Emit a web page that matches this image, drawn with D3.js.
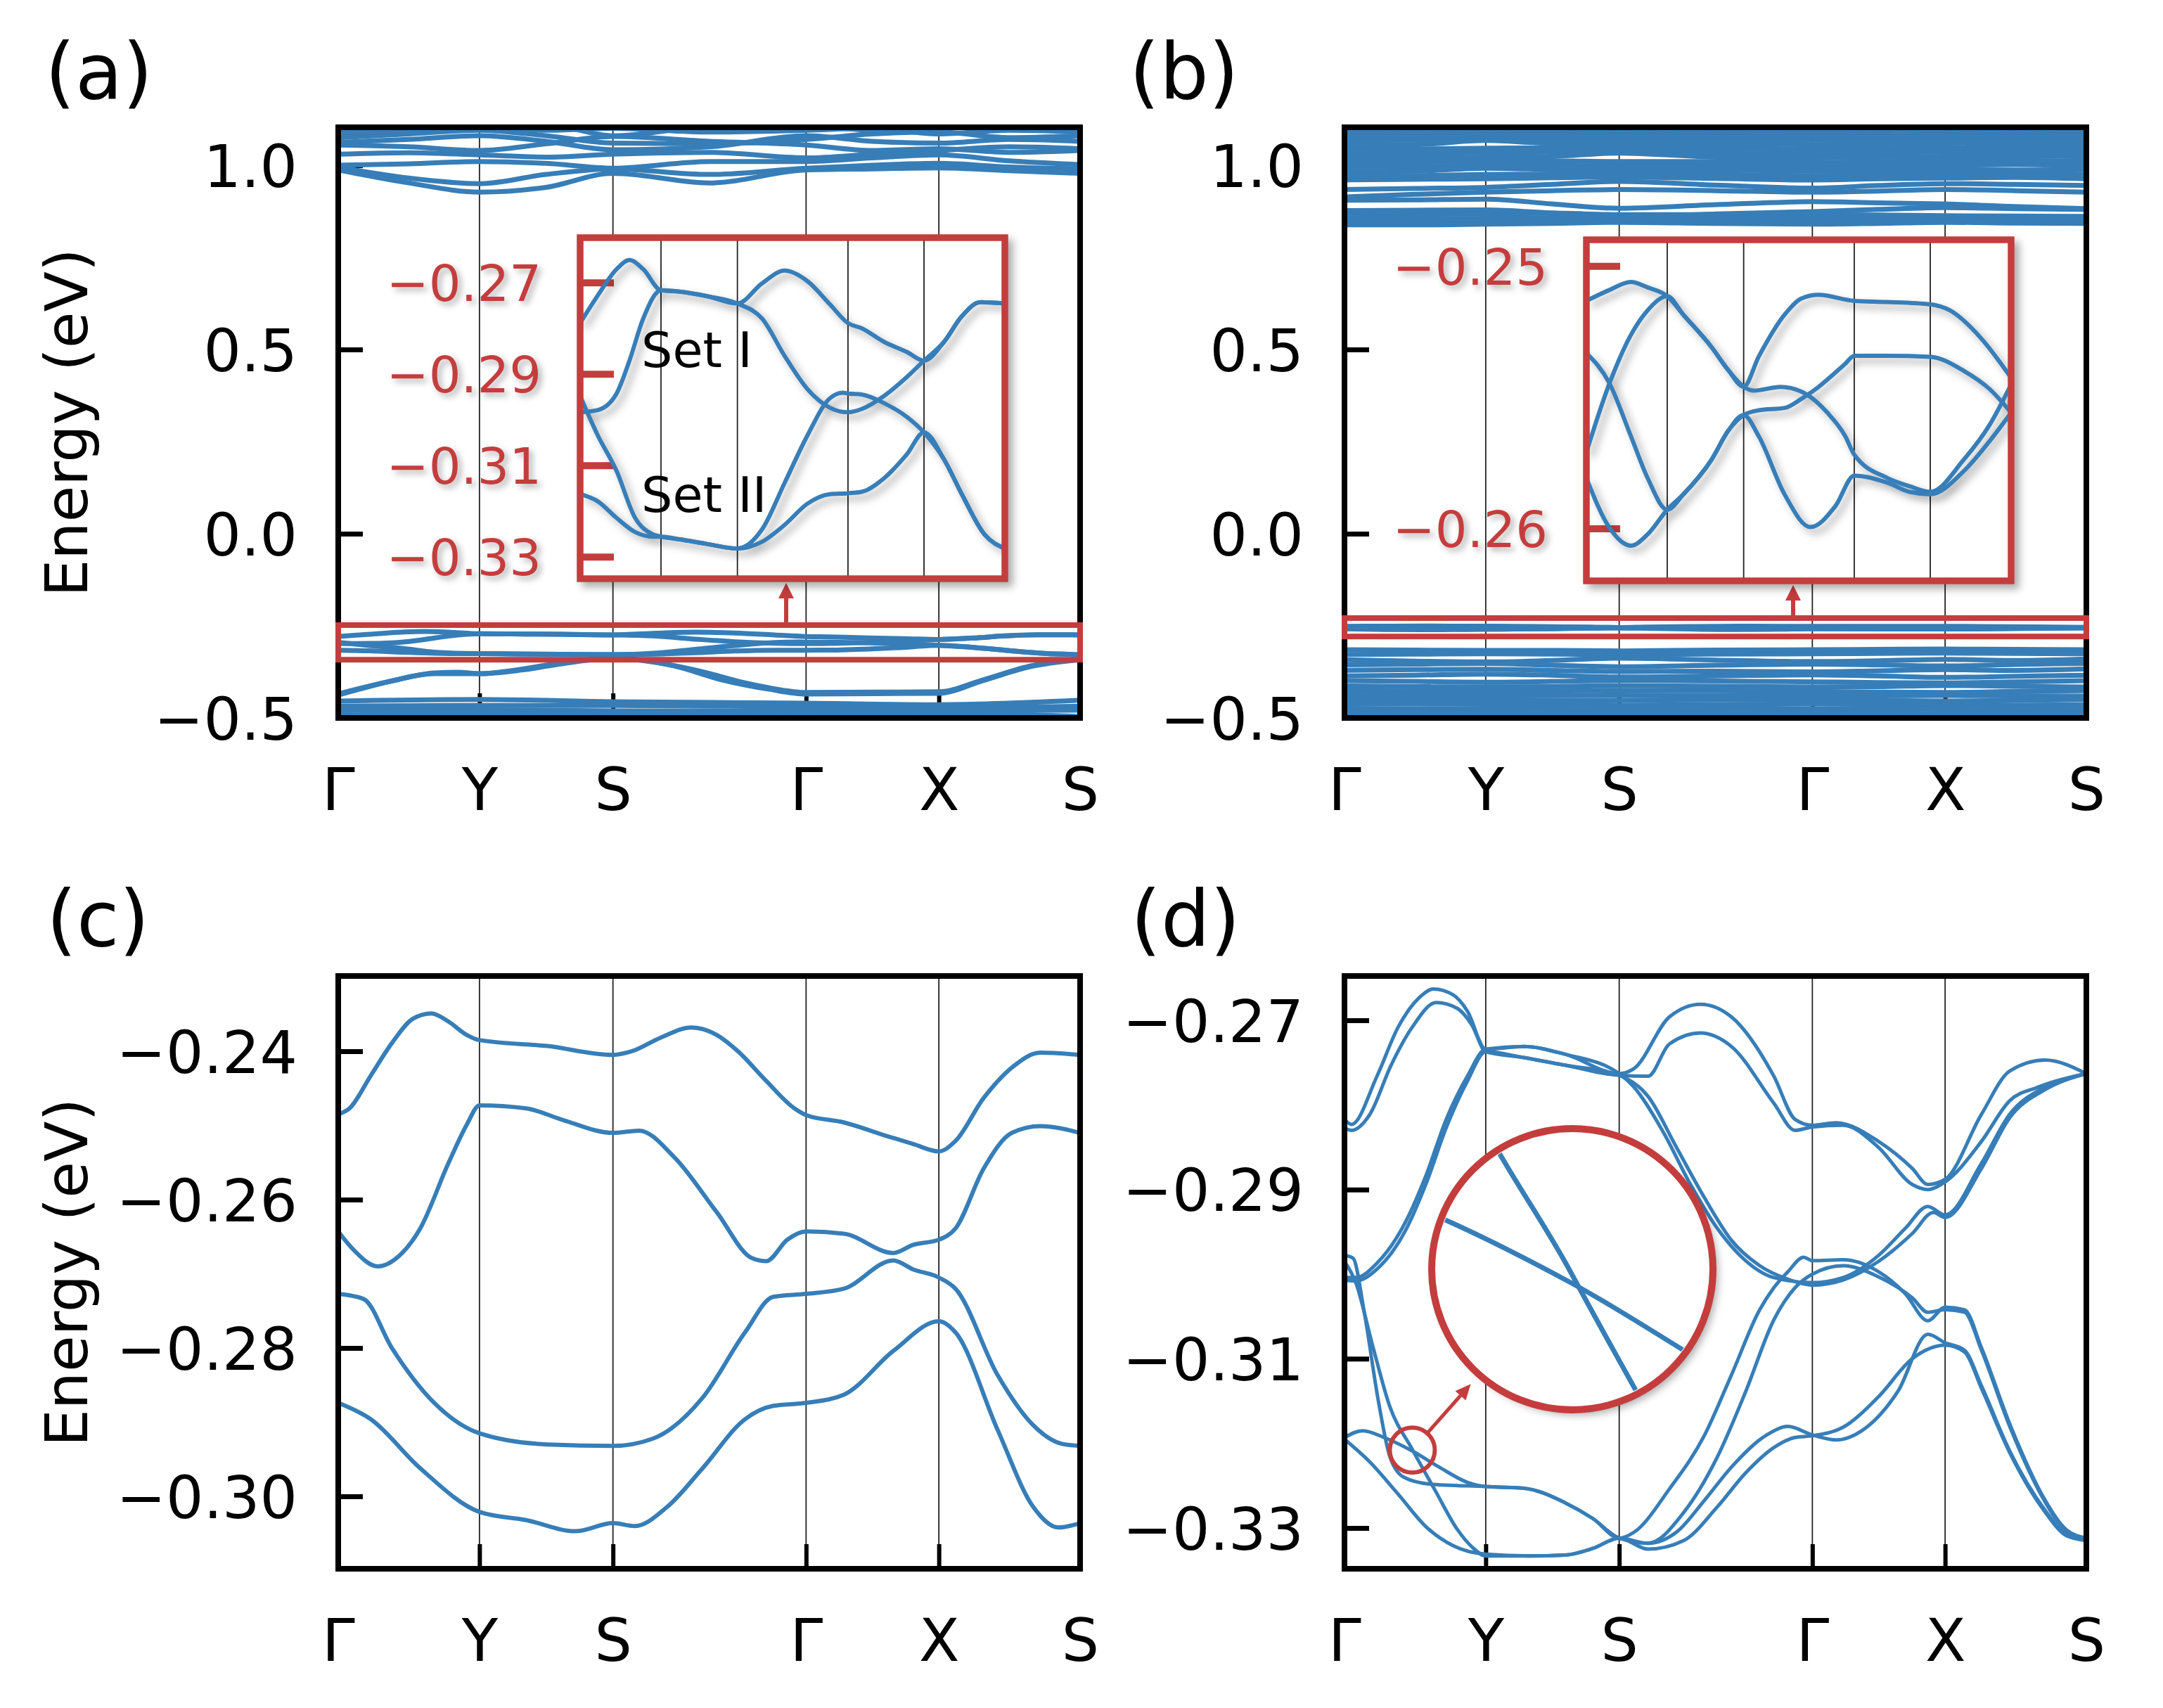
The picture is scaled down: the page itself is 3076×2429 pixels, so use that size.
<!DOCTYPE html>
<html><head><meta charset="utf-8">
<script src="https://cdn.jsdelivr.net/npm/d3@7"></script>
<style>body{margin:0;background:#fff}svg{display:block}</style>
</head><body>
<svg id="chart" width="3076" height="2429"></svg>
<script>
// ---------------- DATA ----------------
const kLabels = ["Γ","Y","S","Γ","X","S"];
const kPoints = [0, 1.0, 1.945, 3.3125, 4.2525, 5.2525];
const kGrid = [0,0.5,1.0,1.47,1.945,2.63,3.3125,3.78,4.2525,4.75,5.2525];
const panelLabels = ["(a)","(b)","(c)","(d)"];
const yTicksAB = [-0.5,0.0,0.5,1.0];
const yTicksC = [-0.30,-0.28,-0.26,-0.24];
const yTicksD = [-0.33,-0.31,-0.29,-0.27];
const yTicksInsetA = [-0.33,-0.31,-0.29,-0.27];
const yTicksInsetB = [-0.26,-0.25];
const boxA = [-0.342,-0.248];
const boxB = [-0.279,-0.229];
const setLabels = ["Set I","Set II"];

// panel (a): upper manifold (values on kGrid)
const aTop = [
 [0.987,0.952,0.927,0.940,0.978,0.952,0.987,0.990,0.993,0.985,0.978],
 [0.995,0.965,0.950,0.975,0.990,0.975,0.992,1.000,1.005,0.995,0.990],
 [1.000,1.004,1.010,1.005,0.992,1.010,1.010,1.020,1.028,1.012,1.002],
 [1.030,1.034,1.028,1.022,1.030,1.035,1.020,1.030,1.040,1.050,1.045],
 [1.055,1.050,1.040,1.058,1.078,1.065,1.055,1.040,1.045,1.035,1.040],
 [1.062,1.070,1.080,1.065,1.042,1.050,1.080,1.065,1.060,1.070,1.065],
 [1.075,1.085,1.095,1.080,1.060,1.058,1.070,1.085,1.090,1.075,1.080],
 [1.085,1.095,1.100,1.095,1.100,1.090,1.095,1.100,1.085,1.095,1.090],
 [1.090,1.092,1.105,1.110,1.080,1.105,1.108,1.095,1.105,1.100,1.098]
];
// panel (a): lower manifold
const aLow1 = [[0,-0.435],[0.34,-0.403],[0.68,-0.380],[1.0,-0.380],[1.18,-0.374],[1.52,-0.354],[1.76,-0.342],[1.945,-0.336],[2.17,-0.345],[2.54,-0.371],[2.88,-0.405],[3.21,-0.428],[3.3125,-0.431],[3.8,-0.430],[4.2525,-0.429],[4.57,-0.396],[4.91,-0.358],[5.15,-0.345],[5.2525,-0.340]];
const aLow2 = [[0,-0.438],[0.41,-0.397],[0.68,-0.378],[0.85,-0.376],[1.0,-0.380],[1.3,-0.370],[1.6,-0.352],[1.945,-0.338],[2.37,-0.358],[2.71,-0.396],[3.05,-0.422],[3.3125,-0.435],[3.8,-0.434],[4.2525,-0.433],[4.57,-0.398],[4.91,-0.360],[5.2525,-0.342]];
const aFlat = [
 [-0.454,-0.450,-0.456,-0.460,-0.464,-0.452],
 [-0.468,-0.466,-0.466,-0.470,-0.472,-0.468],
 [-0.480,-0.478,-0.481,-0.482,-0.480,-0.479],
 [-0.492,-0.490,-0.489,-0.493,-0.486,-0.496],
 [-0.497,-0.495,-0.498,-0.499,-0.492,-0.500]
];
// panel (b): upper and lower manifolds (values on kGrid)
const bTop = [
 [0.838,0.838,0.840,0.842,0.845,0.842,0.840,0.842,0.845,0.843,0.842],
 [0.846,0.847,0.848,0.850,0.852,0.850,0.846,0.848,0.852,0.850,0.850],
 [0.856,0.855,0.856,0.858,0.860,0.858,0.855,0.856,0.858,0.857,0.856],
 [0.866,0.867,0.868,0.870,0.866,0.866,0.866,0.865,0.863,0.862,0.861],
 [0.877,0.878,0.879,0.870,0.860,0.868,0.874,0.880,0.885,0.882,0.880],
 [0.905,0.906,0.908,0.895,0.883,0.893,0.901,0.898,0.895,0.888,0.882],
 [0.914,0.921,0.927,0.931,0.934,0.931,0.927,0.930,0.934,0.931,0.927],
 [0.934,0.937,0.940,0.948,0.956,0.946,0.938,0.945,0.950,0.948,0.945],
 [0.960,0.962,0.963,0.966,0.968,0.964,0.960,0.963,0.965,0.967,0.963],
 [0.972,0.972,0.975,0.976,0.978,0.975,0.972,0.974,0.976,0.978,0.975],
 [0.983,0.984,0.992,0.988,0.985,0.987,0.984,0.986,0.988,0.987,0.988],
 [0.995,0.996,0.998,1.000,0.997,0.998,0.996,0.998,1.000,1.002,0.999],
 [1.007,1.008,1.010,1.012,1.010,1.010,1.008,1.010,1.012,1.013,1.011],
 [1.019,1.020,1.022,1.024,1.033,1.022,1.020,1.022,1.024,1.025,1.023],
 [1.031,1.032,1.034,1.036,1.044,1.034,1.032,1.034,1.036,1.037,1.035],
 [1.043,1.044,1.046,1.048,1.055,1.046,1.044,1.046,1.048,1.049,1.047],
 [1.055,1.056,1.067,1.060,1.062,1.058,1.056,1.058,1.060,1.061,1.059],
 [1.067,1.068,1.078,1.072,1.073,1.070,1.068,1.070,1.072,1.073,1.071],
 [1.079,1.080,1.088,1.084,1.084,1.082,1.080,1.082,1.084,1.085,1.083],
 [1.091,1.090,1.096,1.096,1.095,1.094,1.092,1.094,1.096,1.097,1.095],
 [1.103,1.104,1.106,1.108,1.107,1.106,1.104,1.106,1.108,1.109,1.107]
];
const bLow = [
 [-0.315,-0.316,-0.317,-0.317,-0.318,-0.316,-0.315,-0.314,-0.313,-0.314,-0.315],
 [-0.328,-0.327,-0.326,-0.327,-0.328,-0.327,-0.326,-0.325,-0.324,-0.325,-0.326],
 [-0.342,-0.346,-0.348,-0.344,-0.338,-0.343,-0.347,-0.345,-0.341,-0.344,-0.340],
 [-0.356,-0.354,-0.352,-0.357,-0.361,-0.357,-0.354,-0.356,-0.359,-0.355,-0.352],
 [-0.371,-0.369,-0.368,-0.371,-0.374,-0.373,-0.375,-0.372,-0.369,-0.371,-0.367],
 [-0.386,-0.384,-0.381,-0.384,-0.389,-0.386,-0.383,-0.386,-0.390,-0.387,-0.384],
 [-0.399,-0.401,-0.403,-0.401,-0.398,-0.400,-0.402,-0.404,-0.405,-0.402,-0.399],
 [-0.413,-0.415,-0.416,-0.415,-0.412,-0.414,-0.416,-0.415,-0.412,-0.414,-0.416],
 [-0.426,-0.427,-0.428,-0.427,-0.425,-0.426,-0.428,-0.430,-0.431,-0.428,-0.426],
 [-0.438,-0.439,-0.440,-0.439,-0.438,-0.439,-0.440,-0.440,-0.439,-0.440,-0.441],
 [-0.450,-0.450,-0.451,-0.452,-0.452,-0.451,-0.450,-0.452,-0.454,-0.452,-0.450],
 [-0.462,-0.462,-0.463,-0.464,-0.465,-0.464,-0.462,-0.463,-0.464,-0.465,-0.464],
 [-0.474,-0.475,-0.475,-0.476,-0.477,-0.476,-0.475,-0.475,-0.476,-0.477,-0.476],
 [-0.486,-0.487,-0.487,-0.488,-0.488,-0.488,-0.487,-0.487,-0.488,-0.488,-0.488],
 [-0.497,-0.498,-0.498,-0.499,-0.499,-0.499,-0.498,-0.498,-0.499,-0.499,-0.499]
];
// inset (a) bands: Set I (A,B), Set II (C,D)
const insA_A = [[0,-0.2789],[0.22,-0.2728],[0.45,-0.2671],[0.61,-0.2651],[0.78,-0.2671],[1.0,-0.2717],[1.23,-0.2720],[1.57,-0.2730],[1.945,-0.2746],[2.25,-0.2702],[2.53,-0.2674],[2.81,-0.2697],[3.09,-0.2748],[3.3125,-0.2789],[3.48,-0.2800],[3.76,-0.2830],[4.04,-0.2852],[4.2525,-0.2871],[4.50,-0.2830],[4.72,-0.2774],[4.95,-0.2743],[5.2525,-0.2746]];
const insA_B = [[0,-0.2984],[0.22,-0.2979],[0.45,-0.2943],[0.61,-0.2871],[0.78,-0.2779],[1.0,-0.2717],[1.23,-0.2720],[1.57,-0.2730],[1.945,-0.2746],[2.25,-0.2779],[2.53,-0.2861],[2.81,-0.2933],[3.09,-0.2974],[3.3125,-0.2984],[3.48,-0.2977],[3.76,-0.2948],[4.04,-0.2907],[4.2525,-0.2871],[4.50,-0.2830],[4.72,-0.2774],[4.95,-0.2743],[5.2525,-0.2746]];
const insA_C = [[0,-0.2948],[0.22,-0.3035],[0.45,-0.3112],[0.68,-0.3215],[0.9,-0.3251],[1.0,-0.3256],[1.23,-0.3262],[1.57,-0.3272],[1.945,-0.3282],[2.25,-0.3240],[2.53,-0.3138],[2.81,-0.3035],[3.09,-0.2953],[3.25,-0.2941],[3.3125,-0.2943],[3.48,-0.2945],[3.76,-0.2964],[4.04,-0.2994],[4.2525,-0.3028],[4.50,-0.3087],[4.72,-0.3163],[5.0,-0.3251],[5.2525,-0.3282]];
const insA_D = [[0,-0.3163],[0.22,-0.3179],[0.45,-0.3215],[0.68,-0.3246],[0.9,-0.3256],[1.0,-0.3256],[1.23,-0.3262],[1.57,-0.3272],[1.945,-0.3282],[2.25,-0.3267],[2.53,-0.3230],[2.81,-0.3184],[3.09,-0.3163],[3.3125,-0.3161],[3.48,-0.3158],[3.76,-0.3128],[4.04,-0.3076],[4.2525,-0.3028],[4.50,-0.3087],[4.72,-0.3163],[5.0,-0.3251],[5.2525,-0.3282]];
// inset (b) bands
const insB_1 = [[0,-0.25133],[0.28,-0.25092],[0.55,-0.25061],[0.76,-0.25082],[1.0,-0.25115],[1.2,-0.25186],[1.55,-0.2531],[1.75,-0.25395],[1.945,-0.2546],[2.13,-0.25346],[2.45,-0.25186],[2.66,-0.25124],[2.87,-0.2511],[3.3125,-0.25133],[3.72,-0.25137],[4.2525,-0.25146],[4.5,-0.2517],[4.88,-0.25275],[5.2525,-0.25426]];
const insB_2 = [[0,-0.2571],[0.28,-0.25452],[0.55,-0.25263],[0.76,-0.25168],[1.0,-0.25115],[1.2,-0.25186],[1.55,-0.2531],[1.75,-0.25395],[1.945,-0.2546],[2.07,-0.25475],[2.40,-0.25461],[2.66,-0.25479],[2.98,-0.25559],[3.2,-0.25648],[3.3125,-0.25719],[3.72,-0.25808],[4.0,-0.2584],[4.2525,-0.25861],[4.67,-0.25737],[4.99,-0.25604],[5.2525,-0.25452]];
const insB_3 = [[0,-0.25332],[0.28,-0.25444],[0.55,-0.25648],[0.76,-0.2581],[1.0,-0.25929],[1.2,-0.2587],[1.55,-0.25737],[1.75,-0.2563],[1.945,-0.25568],[2.13,-0.2555],[2.45,-0.25541],[2.66,-0.25506],[2.87,-0.25461],[3.2,-0.25373],[3.3125,-0.25342],[3.72,-0.25342],[4.2525,-0.25346],[4.67,-0.254],[4.99,-0.2547],[5.2525,-0.25559]];
const insB_4 = [[0,-0.25808],[0.28,-0.25995],[0.55,-0.26066],[0.76,-0.26022],[1.0,-0.25929],[1.2,-0.2587],[1.55,-0.25737],[1.75,-0.2563],[1.945,-0.25568],[2.13,-0.25648],[2.45,-0.2587],[2.77,-0.25995],[3.08,-0.25915],[3.3125,-0.25799],[3.72,-0.25826],[4.0,-0.25861],[4.2525,-0.2587],[4.67,-0.25781],[4.99,-0.25666],[5.2525,-0.25559]];
// panel (c)
const c1 = [[0,-0.2485],[0.08,-0.2477],[0.23,-0.2433],[0.38,-0.2389],[0.53,-0.2356],[0.66,-0.2349],[0.78,-0.2360],[0.91,-0.2378],[1.0,-0.2385],[1.48,-0.2393],[1.945,-0.2405],[2.08,-0.2400],[2.28,-0.2382],[2.5,-0.2368],[2.68,-0.2378],[2.83,-0.2400],[3.03,-0.2440],[3.23,-0.2477],[3.3125,-0.2486],[3.58,-0.2496],[3.88,-0.2514],[4.07,-0.2525],[4.2525,-0.2535],[4.37,-0.2521],[4.57,-0.2463],[4.77,-0.2422],[4.97,-0.2402],[5.2525,-0.2405]];
const c2 = [[0,-0.2643],[0.11,-0.2668],[0.28,-0.2690],[0.43,-0.2676],[0.58,-0.2639],[0.78,-0.2551],[0.91,-0.2499],[1.0,-0.2473],[1.33,-0.2477],[1.58,-0.2492],[1.945,-0.2510],[2.13,-0.2507],[2.38,-0.2543],[2.68,-0.2617],[2.93,-0.2679],[3.03,-0.2683],[3.18,-0.2654],[3.3125,-0.2643],[3.58,-0.2646],[3.93,-0.2672],[4.07,-0.2661],[4.2525,-0.2654],[4.37,-0.2639],[4.57,-0.2558],[4.77,-0.2510],[4.97,-0.2501],[5.2525,-0.2510]];
const c3 = [[0,-0.2727],[0.18,-0.2734],[0.38,-0.2800],[0.68,-0.2874],[1.0,-0.2915],[1.48,-0.2930],[1.945,-0.2932],[2.23,-0.2922],[2.58,-0.2867],[2.88,-0.2779],[3.08,-0.2731],[3.3125,-0.2727],[3.58,-0.2720],[3.93,-0.2682],[4.07,-0.2694],[4.2525,-0.2705],[4.37,-0.2720],[4.67,-0.2837],[4.92,-0.2904],[5.12,-0.2929],[5.2525,-0.2932]];
const c4 = [[0,-0.2874],[0.23,-0.2896],[0.58,-0.2962],[1.0,-0.3021],[1.33,-0.3032],[1.68,-0.3047],[1.945,-0.3036],[2.10,-0.3040],[2.33,-0.3014],[2.58,-0.2962],[2.88,-0.2896],[3.08,-0.2878],[3.3125,-0.2874],[3.58,-0.2863],[3.93,-0.2804],[4.2525,-0.2764],[4.37,-0.2779],[4.67,-0.2911],[4.92,-0.3014],[5.10,-0.3042],[5.2525,-0.3036]];
// panel (d)
const dA1 = [[0,-0.2817],[0.05,-0.2823],[0.23,-0.2766],[0.38,-0.2708],[0.53,-0.2673],[0.63,-0.2663],[0.77,-0.2670],[0.87,-0.2689],[1.0,-0.2734],[1.27,-0.2731],[1.56,-0.2740],[1.945,-0.2763],[2.05,-0.2757],[2.30,-0.2696],[2.52,-0.2681],[2.74,-0.2696],[3.04,-0.2766],[3.19,-0.2817],[3.3125,-0.2824],[3.48,-0.2821],[3.78,-0.2843],[4.02,-0.2875],[4.13,-0.2894],[4.2525,-0.2888],[4.51,-0.2811],[4.71,-0.2760],[4.96,-0.2747],[5.2525,-0.2763]];
const dA2 = [[0,-0.2827],[0.05,-0.2830],[0.18,-0.2811],[0.33,-0.2753],[0.48,-0.2708],[0.65,-0.2679],[0.80,-0.2686],[0.90,-0.2705],[1.0,-0.2737],[1.27,-0.2744],[1.56,-0.2753],[1.945,-0.2765],[2.15,-0.2766],[2.30,-0.2728],[2.52,-0.2715],[2.74,-0.2731],[3.04,-0.2798],[3.19,-0.2830],[3.3125,-0.2826],[3.53,-0.2824],[3.78,-0.2850],[4.02,-0.2894],[4.13,-0.2900],[4.2525,-0.2891],[4.51,-0.2843],[4.71,-0.2795],[4.91,-0.2779],[5.2525,-0.2763]];
const dB1 = [[0,-0.3004],[0.08,-0.3004],[0.23,-0.2987],[0.43,-0.2939],[0.58,-0.2882],[0.72,-0.2817],[0.87,-0.2766],[1.0,-0.2734],[1.27,-0.2731],[1.56,-0.2740],[1.945,-0.2763],[2.05,-0.2779],[2.25,-0.2830],[2.45,-0.2894],[2.64,-0.2946],[2.84,-0.2984],[3.04,-0.3004],[3.3125,-0.3010],[3.53,-0.3004],[3.78,-0.2978],[3.97,-0.2946],[4.13,-0.2920],[4.2525,-0.2930],[4.51,-0.2869],[4.71,-0.2811],[4.96,-0.2779],[5.2525,-0.2763]];
const dB2 = [[0,-0.3007],[0.08,-0.3008],[0.23,-0.2994],[0.43,-0.2949],[0.58,-0.2892],[0.72,-0.2827],[0.87,-0.2772],[1.0,-0.2737],[1.27,-0.2744],[1.56,-0.2753],[1.945,-0.2765],[2.15,-0.2790],[2.35,-0.2850],[2.55,-0.2910],[2.74,-0.2960],[2.94,-0.2990],[3.14,-0.3006],[3.3125,-0.3013],[3.53,-0.3007],[3.78,-0.2985],[4.02,-0.2952],[4.17,-0.2927],[4.2525,-0.2933],[4.51,-0.2875],[4.71,-0.2815],[4.96,-0.2782],[5.2525,-0.2763]];
const dC1 = [[0,-0.2978],[0.06,-0.2981],[0.14,-0.3045],[0.24,-0.3150],[0.32,-0.3215],[0.42,-0.3240],[0.6,-0.3248],[1.0,-0.3251],[1.27,-0.3253],[1.56,-0.3270],[1.76,-0.3289],[1.945,-0.3312],[2.05,-0.3305],[2.30,-0.3254],[2.55,-0.3190],[2.74,-0.3119],[2.94,-0.3042],[3.04,-0.3016],[3.14,-0.2997],[3.25,-0.2980],[3.3125,-0.2984],[3.53,-0.2983],[3.78,-0.2997],[3.97,-0.3023],[4.13,-0.3055],[4.2525,-0.3039],[4.39,-0.3042],[4.51,-0.3087],[4.71,-0.3177],[4.96,-0.3267],[5.11,-0.3302],[5.2525,-0.3312]];
const dC2 = [[0,-0.2985],[0.08,-0.3010],[0.2,-0.3085],[0.32,-0.3156],[0.48,-0.3207],[0.64,-0.3255],[0.8,-0.3302],[0.9,-0.3322],[1.0,-0.3333],[1.31,-0.3333],[1.56,-0.3332],[1.76,-0.3324],[1.945,-0.3312],[2.15,-0.3318],[2.40,-0.3282],[2.64,-0.3216],[2.84,-0.3139],[3.04,-0.3054],[3.19,-0.3016],[3.3125,-0.3000],[3.53,-0.2990],[3.78,-0.3003],[4.02,-0.3028],[4.13,-0.3045],[4.2525,-0.3042],[4.39,-0.3045],[4.51,-0.3090],[4.71,-0.3180],[4.96,-0.3269],[5.11,-0.3304],[5.2525,-0.3313]];
const dD1 = [[0,-0.3193],[0.13,-0.3185],[0.28,-0.3193],[0.48,-0.3209],[0.67,-0.3228],[0.87,-0.3246],[1.0,-0.3251],[1.27,-0.3253],[1.56,-0.3270],[1.76,-0.3289],[1.945,-0.3312],[2.15,-0.3318],[2.35,-0.3305],[2.55,-0.3267],[2.74,-0.3228],[2.99,-0.3190],[3.14,-0.3180],[3.3125,-0.3190],[3.48,-0.3196],[3.68,-0.3183],[3.92,-0.3138],[4.13,-0.3071],[4.2525,-0.3081],[4.39,-0.3090],[4.51,-0.3132],[4.71,-0.3209],[4.96,-0.3279],[5.11,-0.3308],[5.2525,-0.3314]];
const dD2 = [[0,-0.3195],[0.18,-0.3222],[0.38,-0.3260],[0.58,-0.3299],[0.77,-0.3321],[1.0,-0.3331],[1.31,-0.3333],[1.56,-0.3332],[1.76,-0.3324],[1.945,-0.3312],[2.15,-0.3325],[2.40,-0.3315],[2.64,-0.3275],[2.84,-0.3235],[3.04,-0.3205],[3.19,-0.3193],[3.3125,-0.3191],[3.53,-0.3181],[3.78,-0.3145],[4.02,-0.3100],[4.2525,-0.3084],[4.39,-0.3092],[4.51,-0.3135],[4.71,-0.3211],[4.96,-0.3281],[5.11,-0.3309],[5.2525,-0.3315]];
const crossPoint = [0.48,-0.3208];

// ---------------- DRAWING ----------------
const FONT = "'DejaVu Sans', sans-serif";
const BLUE = "#377eb8", RED = "#c43d3d";
const svg = d3.select("#chart");
const defs = svg.append("defs");
const f = defs.append("filter").attr("id","shadow").attr("x","-30%").attr("y","-30%").attr("width","160%").attr("height","160%");
f.append("feDropShadow").attr("dx",7).attr("dy",7).attr("stdDeviation",6).attr("flood-color","#000").attr("flood-opacity",0.33);
const f2 = defs.append("filter").attr("id","tshadow").attr("x","-20%").attr("y","-20%").attr("width","140%").attr("height","140%");
f2.append("feDropShadow").attr("dx",5).attr("dy",5).attr("stdDeviation",5).attr("flood-color","#000").attr("flood-opacity",0.3);

const onGrid = vals => vals.map((e,i)=>[kGrid[i],e]);
const onHS = vals => vals.map((e,i)=>[kPoints[i],e]);

function drawPanel(cfg){
  const xs = d3.scaleLinear().domain([kPoints[0],kPoints[5]]).range([cfg.x0,cfg.x1]);
  const ys = d3.scaleLinear().domain(cfg.ydom).range([cfg.y1,cfg.y0]);
  const g = svg.append("g");
  const cid = "clip"+cfg.id;
  defs.append("clipPath").attr("id",cid).append("rect")
    .attr("x",cfg.x0).attr("y",cfg.y0).attr("width",cfg.x1-cfg.x0).attr("height",cfg.y1-cfg.y0);
  g.append("g").selectAll("line").data(kPoints.slice(1,-1)).join("line")
    .attr("x1",d=>xs(d)).attr("x2",d=>xs(d)).attr("y1",cfg.y0).attr("y2",cfg.y1)
    .attr("stroke","#222").attr("stroke-width",1.8);
  const xa = g.append("g").attr("transform",`translate(0,${cfg.y1})`)
    .call(d3.axisBottom(xs).tickValues(kPoints).tickFormat((d,i)=>kLabels[i]).tickSize(-35).tickPadding(71));
  xa.select(".domain").remove();
  xa.attr("font-size",84).attr("font-family",FONT);
  xa.selectAll("line").attr("stroke","#000").attr("stroke-width",6);
  xa.selectAll("text").attr("fill","#000");
  const ya = g.append("g").attr("transform",`translate(${cfg.x0},0)`)
    .call(d3.axisLeft(ys).tickValues(cfg.yticks).tickFormat(d3.format(cfg.fmt)).tickSize(-35).tickPadding(58));
  ya.select(".domain").remove();
  ya.attr("font-size",84).attr("font-family",FONT);
  ya.selectAll("line").attr("stroke","#000").attr("stroke-width",7);
  ya.selectAll("text").attr("fill","#000").attr("dy","0.36em");
  const plot = g.append("g").attr("clip-path",`url(#${cid})`);
  const line = d3.line().x(d=>xs(d[0])).y(d=>ys(d[1])).curve(d3.curveMonotoneX);
  plot.selectAll("path").data(cfg.bands).join("path").attr("d",line)
    .attr("fill","none").attr("stroke",BLUE).attr("stroke-width",cfg.lw).attr("stroke-linejoin","round");
  g.append("rect").attr("x",cfg.x0).attr("y",cfg.y0).attr("width",cfg.x1-cfg.x0).attr("height",cfg.y1-cfg.y0)
    .attr("fill","none").attr("stroke","#000").attr("stroke-width",8);
  g.append("text").attr("x",cfg.lx).attr("y",cfg.ly).attr("font-family",FONT).attr("font-size",110).text(cfg.label);
  if(cfg.ylabel){
    g.append("text").attr("transform",`translate(124,${(cfg.y0+cfg.y1)/2}) rotate(-90)`)
      .attr("text-anchor","middle").attr("font-family",FONT).attr("font-size",84).text("Energy (eV)");
  }
  return {xs,ys,g,line};
}

function drawInset(cfg){
  const xs = d3.scaleLinear().domain([kPoints[0],kPoints[5]]).range([cfg.x0,cfg.x1]);
  const ys = d3.scaleLinear().domain(cfg.ydom).range([cfg.y1,cfg.y0]);
  const g = svg.append("g");
  const cid = "clip"+cfg.id;
  defs.append("clipPath").attr("id",cid).append("rect")
    .attr("x",cfg.x0).attr("y",cfg.y0).attr("width",cfg.x1-cfg.x0).attr("height",cfg.y1-cfg.y0);
  g.append("rect").attr("x",cfg.x0).attr("y",cfg.y0).attr("width",cfg.x1-cfg.x0).attr("height",cfg.y1-cfg.y0)
    .attr("fill","#fff").attr("stroke",RED).attr("stroke-width",9).attr("filter","url(#shadow)");
  g.append("g").selectAll("line").data(kPoints.slice(1,-1)).join("line")
    .attr("x1",d=>xs(d)).attr("x2",d=>xs(d)).attr("y1",cfg.y0).attr("y2",cfg.y1)
    .attr("stroke","#222").attr("stroke-width",1.8);
  const ya = g.append("g").attr("transform",`translate(${cfg.x0},0)`)
    .call(d3.axisLeft(ys).tickValues(cfg.yticks).tickFormat(d3.format(".2f")).tickSize(-48).tickPadding(55));
  ya.select(".domain").remove();
  ya.attr("font-size",72).attr("font-family",FONT);
  ya.selectAll("line").attr("stroke",RED).attr("stroke-width",10);
  ya.selectAll("text").attr("fill",RED).attr("dy","0.36em").attr("filter","url(#tshadow)");
  const line = d3.line().x(d=>xs(d[0])).y(d=>ys(d[1])).curve(d3.curveMonotoneX);
  g.append("g").attr("clip-path",`url(#${cid})`).append("g").attr("filter","url(#shadow)")
    .selectAll("path").data(cfg.bands).join("path").attr("d",line)
    .attr("fill","none").attr("stroke",BLUE).attr("stroke-width",6);
  g.append("rect").attr("x",cfg.x0).attr("y",cfg.y0).attr("width",cfg.x1-cfg.x0).attr("height",cfg.y1-cfg.y0)
    .attr("fill","none").attr("stroke",RED).attr("stroke-width",9);
  return {xs,ys,g};
}

function arrow(g, x1, y1, x2, y2, w, hl, hw){
  const dx=x2-x1, dy=y2-y1, L=Math.hypot(dx,dy), ux=dx/L, uy=dy/L;
  const bx=x2-ux*hl, by=y2-uy*hl;
  g.append("line").attr("x1",x1).attr("y1",y1).attr("x2",bx).attr("y2",by)
    .attr("stroke",RED).attr("stroke-width",w);
  g.append("polygon").attr("points",[[x2,y2],[bx-uy*hw,by+ux*hw],[bx+uy*hw,by-ux*hw]].map(p=>p.join(",")).join(" "))
    .attr("fill",RED);
}

const insetABands = [insA_A, insA_B, insA_C, insA_D];
const insetBBands = [insB_1, insB_2, insB_3, insB_4];

// Panel (a)
const pa = drawPanel({id:"a", x0:481, x1:1536, y0:181, y1:1021, ydom:[-0.5,1.103], yticks:yTicksAB, fmt:".1f",
  lw:7, label:panelLabels[0], lx:64, ly:140, ylabel:true,
  bands:[...aTop.map(onGrid), aLow1, aLow2, ...aFlat.map(onHS), ...insetABands]});
pa.g.append("rect").attr("x",481).attr("y",pa.ys(boxA[1])).attr("width",1055).attr("height",pa.ys(boxA[0])-pa.ys(boxA[1]))
  .attr("fill","none").attr("stroke",RED).attr("stroke-width",8);
arrow(pa.g, 1118, pa.ys(boxA[1])-4, 1118, 829, 6, 22, 11);
const ia = drawInset({id:"ia", x0:825, x1:1429, y0:338, y1:823, ydom:[-0.3348,-0.2602], yticks:yTicksInsetA, bands:insetABands});
ia.g.append("text").attr("x",912).attr("y",522).attr("font-family",FONT).attr("font-size",70).text(setLabels[0]);
ia.g.append("text").attr("x",912).attr("y",728).attr("font-family",FONT).attr("font-size",70).text(setLabels[1]);

// Panel (b)
const pb = drawPanel({id:"b", x0:1912, x1:2967, y0:181, y1:1021, ydom:[-0.5,1.103], yticks:yTicksAB, fmt:".1f",
  lw:7, label:panelLabels[1], lx:1606, ly:140, ylabel:false,
  bands:[...bTop.map(onGrid), ...bLow.map(onGrid), ...insetBBands]});
pb.g.append("rect").attr("x",1912).attr("y",pb.ys(boxB[1])).attr("width",1055).attr("height",pb.ys(boxB[0])-pb.ys(boxB[1]))
  .attr("fill","none").attr("stroke",RED).attr("stroke-width",8);
arrow(pb.g, 2550, pb.ys(boxB[1])-4, 2550, 832, 6, 22, 11);
drawInset({id:"ib", x0:2256, x1:2860, y0:341, y1:826, ydom:[-0.2620,-0.2490], yticks:yTicksInsetB, bands:insetBBands});

// Panel (c)
drawPanel({id:"c", x0:481, x1:1536, y0:1388, y1:2231, ydom:[-0.30976,-0.22986], yticks:yTicksC, fmt:".2f",
  lw:6, label:panelLabels[2], lx:66, ly:1345, ylabel:true, bands:[c1,c2,c3,c4]});

// Panel (d)
const pd = drawPanel({id:"d", x0:1912, x1:2967, y0:1388, y1:2231, ydom:[-0.33482,-0.26476], yticks:yTicksD, fmt:".2f",
  lw:5, label:panelLabels[3], lx:1608, ly:1345, ylabel:false,
  bands:[dA1,dA2,dB1,dB2,dC1,dC2,dD1,dD2]});
const sc = [pd.xs(crossPoint[0]), pd.ys(crossPoint[1])];
const bigC = [2236,1805], bigR = 200, mag = 6, magAt = [2234,1817];
pd.g.append("circle").attr("cx",sc[0]).attr("cy",sc[1]).attr("r",32).attr("fill","none").attr("stroke",RED).attr("stroke-width",6);
{
  const dx=bigC[0]-sc[0], dy=bigC[1]-sc[1], L=Math.hypot(dx,dy), ux=dx/L, uy=dy/L;
  arrow(pd.g, sc[0]+ux*34, sc[1]+uy*34, bigC[0]-ux*(bigR+18), bigC[1]-uy*(bigR+18), 5, 22, 10);
}
pd.g.append("circle").attr("cx",bigC[0]).attr("cy",bigC[1]).attr("r",bigR).attr("fill","#fff").attr("filter","url(#shadow)");
defs.append("clipPath").attr("id","clipMag").append("circle").attr("cx",bigC[0]).attr("cy",bigC[1]).attr("r",bigR-6);
pd.g.append("g").attr("clip-path","url(#clipMag)").append("g")
  .attr("transform",`translate(${magAt[0]},${magAt[1]}) scale(${mag}) translate(${-sc[0]},${-sc[1]})`)
  .selectAll("path").data([dC2,dD1]).join("path").attr("d",pd.line)
  .attr("fill","none").attr("stroke",BLUE).attr("stroke-width",7/mag);
pd.g.append("circle").attr("cx",bigC[0]).attr("cy",bigC[1]).attr("r",bigR).attr("fill","none").attr("stroke",RED).attr("stroke-width",10);
</script>
</body></html>
